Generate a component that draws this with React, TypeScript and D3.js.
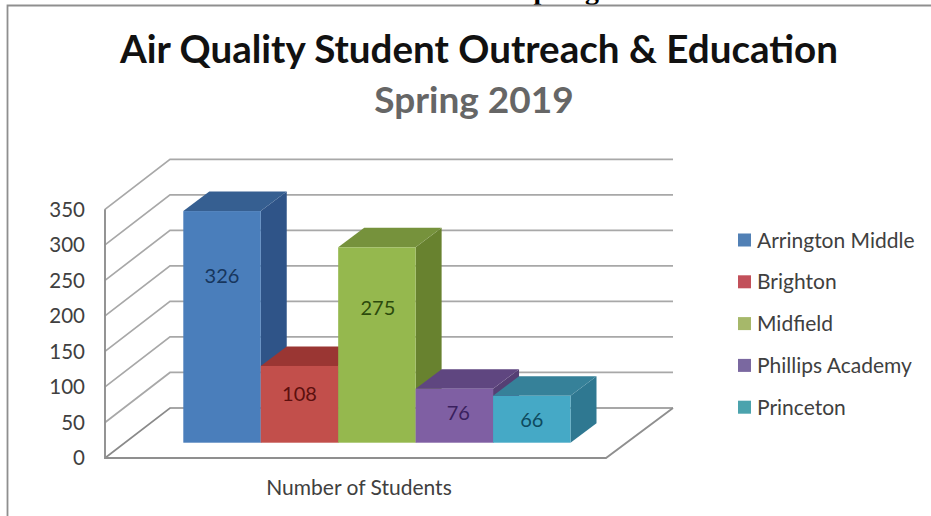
import React from "react";
import * as d3 from "d3";

// Enrolment counts per school
const schools = ["Arrington Middle", "Brighton", "Midfield", "Phillips Academy", "Princeton"];
const students = [326, 108, 275, 76, 66];
const yTicks = [0, 50, 100, 150, 200, 250, 300, 350];

// Face colours per school
const frontColors = ["#4a7ebb", "#c24f4b", "#95b84e", "#7f5fa3", "#45a9c6"];
const topColors = ["#365f91", "#9a3633", "#76923c", "#5f4680", "#368199"];
const sideColors = ["#2f5488", "#8a302e", "#68822f", "#553f74", "#2f7891"];
const labelColors = ["#17365d", "#5c0f0e", "#2c4a0c", "#3a1f5e", "#0d4a5e"];
const legendColors = ["#5180b5", "#c2505a", "#a6b86a", "#7a68a0", "#4ba3ad"];

// Hand-placed label shifts from the centre of each front face
const labelShiftX = [0, 0, 1, 4, 0];
const labelShiftY = [-51, -11, -37, -3, 1];

const WIDTH = 931;
const HEIGHT = 516;
const SANS = "Lato, Carlito, 'Open Sans', sans-serif";

// Oblique projection of the chart box
const WALL_DX = 65;
const WALL_DY = 50;
const BAR_DX = 26;
const BAR_DY = 19.5;
const BAR_BASE_LIFT = 15.3;

const y = d3.scaleLinear().domain([0, 350]).range([458, 209.3]);
const x = d3.scaleBand<string>().domain(schools).range([183.3, 570.5]);
const floorLeft = 105;
const floorRight = 606;

const poly = d3.line<[number, number]>();
const closed = (pts: [number, number][]) => poly(pts) + "Z";

export default function App() {
  return (
    <svg
      width={WIDTH}
      height={HEIGHT}
      viewBox={`0 0 ${WIDTH} ${HEIGHT}`}
      style={{ position: "absolute", left: 0, top: 0, background: "#fff" }}
    >
      {/* Heading of the surrounding document, cut off by the chart frame */}
      <text x={518} y={-1} fontFamily="'Liberation Serif', serif" fontWeight={700} fontSize={28} fill="#000">
        Spring
      </text>
      <rect x={0} y={5} width={WIDTH} height={HEIGHT - 5} fill="#fff" />
      <path d={`M7.5,${HEIGHT}V5.5H${WIDTH}`} fill="none" stroke="#8f8f8f" strokeWidth={1.8} />

      <text
        x={479}
        y={63}
        textAnchor="middle"
        fontFamily={SANS}
        fontWeight={700}
        fontSize={37.5}
        fill="#111"
        textLength={718}
        lengthAdjust="spacingAndGlyphs"
      >
        Air Quality Student Outreach &amp; Education
      </text>
      <text x={474} y={112.5} textAnchor="middle" fontFamily={SANS} fontWeight={700} fontSize={37} fill="#666">
        Spring 2019
      </text>

      {/* Walls */}
      {yTicks.map((t) => (
        <path
          key={t}
          d={poly([
            [floorLeft, y(t)],
            [floorLeft + WALL_DX, y(t) - WALL_DY],
            [floorRight + WALL_DX + 2, y(t) - WALL_DY],
          ]) as string}
          fill="none"
          stroke={t === 0 ? "#8a8a8a" : "#a8a8a8"}
          strokeWidth={1.7}
        />
      ))}
      <path
        d={`M${floorLeft},${y(350)}V${y(0)}H${floorRight}L${floorRight + WALL_DX + 2},${y(0) - WALL_DY}`}
        fill="none"
        stroke="#8f8f8f"
        strokeWidth={1.9}
      />

      {yTicks.map((t) => (
        <text
          key={t}
          x={85}
          y={y(t)}
          dy="0.36em"
          textAnchor="end"
          fontFamily={SANS}
          fontSize={20.5}
          fill="#404040"
        >
          {t}
        </text>
      ))}

      {/* Bars, painted left to right so later bars overlap earlier sides */}
      {schools.map((s, i) => {
        const x0 = x(s) as number;
        const x1 = x0 + x.bandwidth();
        const base = y(0) - BAR_BASE_LIFT;
        const top = y(students[i]) - BAR_BASE_LIFT;
        return (
          <g key={s}>
            <path
              d={closed([
                [x1, top],
                [x1 + BAR_DX, top - BAR_DY],
                [x1 + BAR_DX, base - BAR_DY],
                [x1, base],
              ])}
              fill={sideColors[i]}
            />
            <path
              d={closed([
                [x0, top],
                [x0 + BAR_DX, top - BAR_DY],
                [x1 + BAR_DX, top - BAR_DY],
                [x1, top],
              ])}
              fill={topColors[i]}
            />
            <rect x={x0} y={top} width={x.bandwidth()} height={base - top} fill={frontColors[i]} />
          </g>
        );
      })}
      {schools.map((s, i) => {
        const base = y(0) - BAR_BASE_LIFT;
        const top = y(students[i]) - BAR_BASE_LIFT;
        return (
          <text
            key={s}
            x={(x(s) as number) + x.bandwidth() / 2 + labelShiftX[i]}
            y={(base + top) / 2 + labelShiftY[i]}
            dy="0.36em"
            textAnchor="middle"
            fontFamily={SANS}
            fontSize={20}
            fill={labelColors[i]}
          >
            {students[i]}
          </text>
        );
      })}

      <text x={359} y={487} dy="0.36em" textAnchor="middle" fontFamily={SANS} fontSize={21} fill="#404040">
        Number of Students
      </text>

      {/* Legend */}
      {schools.map((s, i) => {
        const cy = 240 + i * 41.8;
        return (
          <g key={s}>
            <rect x={738} y={cy - 6.5} width={13} height={13} fill={legendColors[i]} />
            <text x={757} y={cy} dy="0.36em" fontFamily={SANS} fontSize={21} fill="#404040">
              {s}
            </text>
          </g>
        );
      })}
    </svg>
  );
}
